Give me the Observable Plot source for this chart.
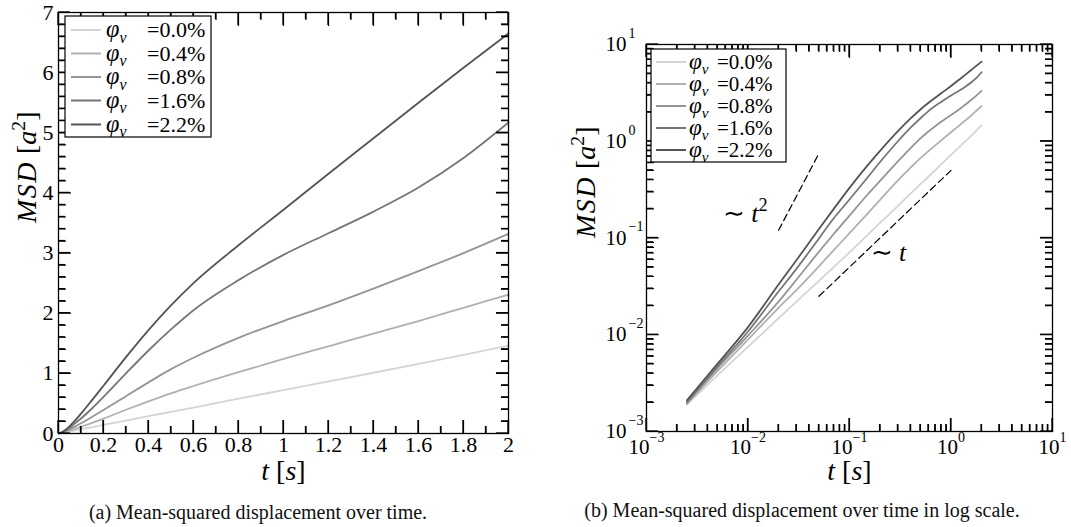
<!DOCTYPE html>
<html>
<head>
<meta charset="utf-8">
<script src="https://cdn.jsdelivr.net/npm/d3@7"></script>
<script src="https://cdn.jsdelivr.net/npm/@observablehq/plot@0.6"></script>
<style>
  html, body { margin: 0; padding: 0; background: #fff; }
  body { width: 1071px; height: 527px; overflow: hidden; position: relative; font-family: "Liberation Serif", serif; }
  #left { position: absolute; left: 0; top: 0; }
  #right { position: absolute; left: 536px; top: 0; }
  svg text { font-family: "Liberation Serif", serif; }
  .cap { position: absolute; font-size: 20px; line-height: 22px; text-align: center; color: #111; white-space: nowrap; }
  #capA { left: 0; width: 516px; top: 501px; }
  #capB { left: 536px; width: 532px; top: 499px; }
</style>
</head>
<body>
<div id="left"></div>
<div id="right"></div>
<div class="cap" id="capA">(a) Mean-squared displacement over time.</div>
<div class="cap" id="capB">(b) Mean-squared displacement over time in log scale.</div>
<script>
// ---------------- data ----------------
const phiLabels = ["0.0", "0.4", "0.8", "1.6", "2.2"];
const greys = ["#d4d4d4", "#b0b0b0", "#959595", "#767676", "#545454"];
const times = [0.0025, 0.005, 0.01, 0.02, 0.03, 0.05, 0.07, 0.1, 0.15, 0.2, 0.3, 0.4, 0.5, 0.6, 0.8, 1.0, 1.2, 1.4, 1.6, 1.8, 2.0];
const msd00 = [0.0019, 0.0038, 0.0075, 0.0148, 0.022, 0.036, 0.05, 0.071, 0.107, 0.143, 0.215, 0.288, 0.36, 0.432, 0.578, 0.722, 0.866, 1.01, 1.158, 1.308, 1.46];
const msd04 = [0.00192, 0.0042, 0.0089, 0.019, 0.029, 0.051, 0.075, 0.112, 0.178, 0.248, 0.395, 0.535, 0.668, 0.79, 1.02, 1.24, 1.45, 1.66, 1.87, 2.09, 2.31];
const msd08 = [0.00198, 0.0045, 0.0098, 0.022, 0.037, 0.072, 0.11, 0.17, 0.28, 0.39, 0.62, 0.85, 1.07, 1.26, 1.59, 1.87, 2.13, 2.41, 2.7, 3.0, 3.32];
const msd16 = [0.0020, 0.0047, 0.0108, 0.028, 0.048, 0.099, 0.16, 0.25, 0.42, 0.61, 1.0, 1.38, 1.73, 2.05, 2.55, 2.97, 3.33, 3.69, 4.09, 4.58, 5.17];
const msd22 = [0.0021, 0.0050, 0.012, 0.033, 0.059, 0.124, 0.20, 0.33, 0.56, 0.795, 1.27, 1.72, 2.13, 2.5, 3.13, 3.72, 4.32, 4.91, 5.5, 6.08, 6.65];

const linXMajor = [0, 0.2, 0.4, 0.6, 0.8, 1, 1.2, 1.4, 1.6, 1.8, 2];
const linXLabels = ["0", "0.2", "0.4", "0.6", "0.8", "1", "1.2", "1.4", "1.6", "1.8", "2"];
const linXMinor = [0.1, 0.3, 0.5, 0.7, 0.9, 1.1, 1.3, 1.5, 1.7, 1.9];
const linYMajor = [0, 1, 2, 3, 4, 5, 6, 7];
const linYLabels = ["0", "1", "2", "3", "4", "5", "6", "7"];
const linYMinor = [0.2, 0.4, 0.6, 0.8, 1.2, 1.4, 1.6, 1.8, 2.2, 2.4, 2.6, 2.8, 3.2, 3.4, 3.6, 3.8, 4.2, 4.4, 4.6, 4.8, 5.2, 5.4, 5.6, 5.8, 6.2, 6.4, 6.6, 6.8];

const logMajor = [0.001, 0.01, 0.1, 1, 10];
const logExponents = ["\u22123", "\u22122", "\u22121", "0", "1"];
const logMinorMantissa = [2, 3, 4, 5, 6, 7, 8, 9];
const logMinor = logMajor.slice(0, 4).flatMap(d => logMinorMantissa.map(m => d * m));

const guideSq = [{t: 0.02, msd: 0.12}, {t: 0.05, msd: 0.75}];
const guideLin = [{t: 0.05, msd: 0.025}, {t: 1.0, msd: 0.5}];
const guideLabels = [{t: 0.0094, msd: 0.179, label: "\u223C t2"}, {t: 0.242, msd: 0.0709, label: "\u223C t"}];

const seriesValues = [msd00, msd04, msd08, msd16, msd22];
const rows = phiLabels.flatMap((p, i) => times.map((t, j) => ({phi: p, t, msd: seriesValues[i][j]})));

// ---------------- helpers ----------------
const FONT = "Liberation Serif";

// inward frame ticks as short two-point lines; the pixel length is turned into a data offset
function tickSegments(ax, ay, fw, fh) {
  const move = (v, px, a, span) => a.log ? v * Math.pow(a.dom[1] / a.dom[0], px / span) : v + px * (a.dom[1] - a.dom[0]) / span;
  const out = [];
  let id = 0;
  const addX = (vals, len) => vals.forEach(v => {
    out.push({id, x: v, y: ay.dom[0]}, {id, x: v, y: move(ay.dom[0], len, ay, fh)}); id++;
    out.push({id, x: v, y: ay.dom[1]}, {id, x: v, y: move(ay.dom[1], -len, ay, fh)}); id++;
  });
  const addY = (vals, len) => vals.forEach(v => {
    out.push({id, y: v, x: ax.dom[0]}, {id, y: v, x: move(ax.dom[0], len, ax, fw)}); id++;
    out.push({id, y: v, x: ax.dom[1]}, {id, y: v, x: move(ax.dom[1], -len, ax, fw)}); id++;
  });
  addX(ax.major, 13); addX(ax.minor, 7);
  addY(ay.major, 12); addY(ay.minor, 7);
  return out;
}

// same ticks again as explicit line elements, positioned through the plot's own scales
function drawTicks(svg, ax, ay, m) {
  const sx = svg.scale("x"), sy = svg.scale("y");
  const X = v => sx.apply(v), Y = v => sy.apply(v);
  const g = d3.select(svg).append("g");
  const seg = (x1, y1, x2, y2) => g.append("line").attr("x1", x1).attr("y1", y1).attr("x2", x2).attr("y2", y2)
    .attr("stroke", "black").attr("stroke-width", 1.3);
  const top = m.top, bottom = m.bottom, left = m.left, right = m.right;
  [[ax.major, 13], [ax.minor, 7]].forEach(([vals, len]) => vals.forEach(v => {
    seg(X(v), bottom, X(v), bottom - len);
    seg(X(v), top, X(v), top + len);
  }));
  [[ay.major, 12], [ay.minor, 7]].forEach(([vals, len]) => vals.forEach(v => {
    seg(left, Y(v), left + len, Y(v));
    seg(right, Y(v), right - len, Y(v));
  }));
}

const RICH = {
  "MSD [a2]": {fs: 28, parts: [["i", "MSD", 1.5], ["r", " ["], ["i", "a"], ["s", "2"], ["r", "]"]]},
  "t [s]": {fs: 28, parts: [["i", "t"], ["r", " ["], ["i", "s"], ["r", "]"]]},
  "\u223C t2": {fs: 26, parts: [["r", "\u223C "], ["i", "t"], ["s", "2"]]},
  "\u223C t": {fs: 26, parts: [["r", "\u223C "], ["i", "t"]]}
};

function enrich(svg) {
  d3.select(svg).attr("font-family", FONT);
  d3.select(svg).selectAll("text").each(function () {
    const txt = this.textContent;
    const sel = d3.select(this);
    if (txt.includes("^")) {
      const [b, e] = txt.split("^");
      sel.text(b);
      sel.append("tspan").attr("dy", -12).attr("font-size", 14).text(e);
      return;
    }
    const spec = RICH[txt];
    if (!spec) return;
    sel.text("");
    const fs = spec.fs;
    let raised = 0;
    for (const [k, s, ls] of spec.parts) {
      const ts = sel.append("tspan").text(s);
      if (k === "i") ts.attr("font-style", "italic");
      if (ls) ts.attr("letter-spacing", ls);
      if (k === "s") {
        ts.attr("font-size", fs * 0.7).attr("dy", -fs * 0.4);
        raised = fs * 0.4;
      } else if (raised) {
        ts.attr("dy", raised);
        raised = 0;
      }
    }
  });
}

function legend(svg, o) {
  const g = d3.select(svg).append("g").attr("text-anchor", "start").attr("font-family", FONT);
  g.append("rect").attr("x", o.x).attr("y", o.y).attr("width", o.w).attr("height", o.h)
    .attr("fill", "white").attr("stroke", "black").attr("stroke-width", 1.2);
  phiLabels.forEach((p, i) => {
    const yy = o.rows[i];
    g.append("line").attr("x1", o.lx1).attr("x2", o.lx2).attr("y1", yy).attr("y2", yy)
      .attr("stroke", greys[i]).attr("stroke-width", 2);
    const t = g.append("text").attr("x", o.tx).attr("y", yy + 0.32 * o.fs).attr("font-size", o.fs)
      .attr("fill", "black").attr("text-anchor", "start");
    t.append("tspan").attr("font-style", "italic").attr("font-size", o.fs * 1.1).text("\u03C6");
    t.append("tspan").attr("font-style", "italic").attr("font-size", o.fs * 0.72).attr("dy", o.fs * 0.25).text("v");
    t.append("tspan").attr("x", o.ex).attr("dy", -o.fs * 0.25).text("=" + p + "%");
  });
}

// ---------------- left panel (linear) ----------------
{
  const W = 535, H = 495, ml = 58, mr = 27, mt = 12, mb = 62;
  const fw = W - ml - mr, fh = H - mt - mb;
  const ax = {dom: [0, 2], log: false, major: linXMajor, minor: linXMinor};
  const ay = {dom: [0, 7], log: false, major: linYMajor, minor: linYMinor};
  const svg = Plot.plot({
    width: W, height: H,
    marginLeft: ml, marginRight: mr, marginTop: mt, marginBottom: mb,
    style: {fontFamily: FONT, color: "black", background: "white"},
    x: {domain: ax.dom, axis: null},
    y: {domain: ay.dom, axis: null},
    color: {domain: phiLabels, range: greys},
    marks: [
      Plot.line(rows, {x: "t", y: "msd", z: "phi", stroke: "phi", strokeWidth: 1.8, curve: "monotone-x"}),
      Plot.line(tickSegments(ax, ay, fw, fh), {x: "x", y: "y", z: "id", stroke: "black", strokeWidth: 1.2}),
      Plot.frame({stroke: "black", strokeWidth: 1.3}),
      Plot.text(linXMajor, {x: d => d, frameAnchor: "bottom", dy: 18, text: (d, i) => linXLabels[i], fontSize: 22, fontFamily: FONT}),
      Plot.text(linYMajor, {y: d => d, frameAnchor: "left", dx: -5, textAnchor: "end", text: (d, i) => linYLabels[i], fontSize: 22, fontFamily: FONT}),
      Plot.text(["MSD [a2]"], {frameAnchor: "left", dx: -31, rotate: -90, text: d => d, fontSize: 28, fontFamily: FONT}),
      Plot.text(["t [s]"], {frameAnchor: "bottom", dy: 46, text: d => d, fontSize: 28, fontFamily: FONT})
    ]
  });
  enrich(svg);
  try { drawTicks(svg, ax, ay, {top: mt, bottom: H - mb, left: ml, right: W - mr}); } catch (e) {}
  legend(svg, {x: 65, y: 16, w: 146, h: 121, rows: [30, 53.5, 77, 100.5, 124.5], lx1: 71, lx2: 101, tx: 106, ex: 147, fs: 22});
  document.getElementById("left").appendChild(svg);
}

// ---------------- right panel (log-log) ----------------
{
  const W = 535, H = 495, ml = 110, mr = 19, mt = 44, mb = 64;
  const fw = W - ml - mr, fh = H - mt - mb;
  const ax = {dom: [0.001, 10], log: true, major: logMajor, minor: logMinor};
  const ay = {dom: [0.001, 10], log: true, major: logMajor, minor: logMinor};
  const svg = Plot.plot({
    width: W, height: H,
    marginLeft: ml, marginRight: mr, marginTop: mt, marginBottom: mb,
    style: {fontFamily: FONT, color: "black", background: "white"},
    x: {type: "log", domain: ax.dom, axis: null},
    y: {type: "log", domain: ay.dom, axis: null},
    color: {domain: phiLabels, range: greys},
    marks: [
      Plot.line(rows, {x: "t", y: "msd", z: "phi", stroke: "phi", strokeWidth: 1.8, curve: "monotone-x"}),
      Plot.line(guideSq, {x: "t", y: "msd", stroke: "black", strokeWidth: 1.2, strokeDasharray: "7,4"}),
      Plot.line(guideLin, {x: "t", y: "msd", stroke: "black", strokeWidth: 1.2, strokeDasharray: "7,4"}),
      Plot.text(guideLabels, {x: "t", y: "msd", text: "label", fontSize: 26, fontFamily: FONT}),
      Plot.line(tickSegments(ax, ay, fw, fh), {x: "x", y: "y", z: "id", stroke: "black", strokeWidth: 1.2}),
      Plot.frame({stroke: "black", strokeWidth: 1.3}),
      Plot.text(logMajor, {x: d => d, frameAnchor: "bottom", dy: 22, text: (d, i) => "10^" + logExponents[i], fontSize: 21, fontFamily: FONT}),
      Plot.text(logMajor, {y: d => d, frameAnchor: "left", dx: -20, textAnchor: "end", text: () => "10", fontSize: 21, fontFamily: FONT}),
      Plot.text(logMajor, {y: d => d, frameAnchor: "left", dx: -18, dy: -11, textAnchor: "start", text: (d, i) => logExponents[i], fontSize: 14, fontFamily: FONT}),
      Plot.text(["MSD [a2]"], {frameAnchor: "left", dx: -60, rotate: -90, text: d => d, fontSize: 28, fontFamily: FONT}),
      Plot.text(["t [s]"], {frameAnchor: "bottom", dy: 48, text: d => d, fontSize: 28, fontFamily: FONT})
    ]
  });
  enrich(svg);
  try { drawTicks(svg, ax, ay, {top: mt, bottom: H - mb, left: ml, right: W - mr}); } catch (e) {}
  legend(svg, {x: 115, y: 49, w: 135, h: 113, rows: [62, 84, 106, 128, 150], lx1: 120, lx2: 150, tx: 153, ex: 181, fs: 21});
  document.getElementById("right").appendChild(svg);
}
</script>
</body>
</html>
